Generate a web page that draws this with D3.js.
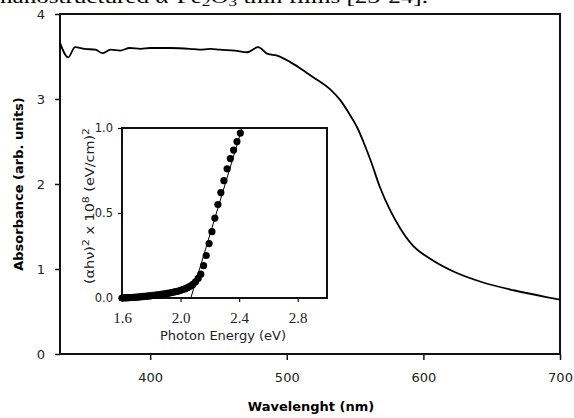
<!DOCTYPE html>
<html>
<head>
<meta charset="utf-8">
<script src="https://cdn.jsdelivr.net/npm/d3@7"></script>
<style>
  body { margin: 0; background: #fff; }
  svg { display: block; }
</style>
</head>
<body>
<svg width="574" height="418"></svg>
<script>
// main spectrum
const wavelength = [334, 340, 345, 352, 360, 365, 371, 378, 385, 393, 400, 415, 429, 436, 444, 451, 462, 471, 479, 486, 493, 502, 510, 519, 532, 539, 546, 552, 556, 562, 568, 576, 583, 592, 605, 622, 642, 666, 690, 700];
const absorbance = [3.66, 3.49, 3.61, 3.59, 3.58, 3.54, 3.58, 3.57, 3.60, 3.59, 3.60, 3.60, 3.59, 3.58, 3.59, 3.58, 3.57, 3.55, 3.61, 3.53, 3.51, 3.44, 3.36, 3.26, 3.11, 2.99, 2.82, 2.65, 2.50, 2.25, 1.97, 1.68, 1.48, 1.28, 1.12, 0.97, 0.85, 0.75, 0.67, 0.64];
const mainXTicks = [400, 500, 600, 700];
const mainYTicks = [0, 1, 2, 3, 4];

// inset Tauc plot
const photonEnergy = [1.600, 1.610, 1.621, 1.632, 1.642, 1.653, 1.664, 1.676, 1.687, 1.699, 1.710, 1.722, 1.734, 1.746, 1.759, 1.771, 1.784, 1.797, 1.810, 1.824, 1.837, 1.851, 1.865, 1.879, 1.893, 1.908, 1.922, 1.938, 1.953, 1.968, 1.984, 2.000, 2.016, 2.033, 2.050, 2.067, 2.084, 2.102, 2.120, 2.138, 2.157, 2.175, 2.195, 2.214, 2.234, 2.255, 2.275, 2.296, 2.318, 2.340, 2.362, 2.385, 2.408];
const tauc = [0.000, 0.001, 0.001, 0.002, 0.002, 0.003, 0.003, 0.004, 0.004, 0.005, 0.006, 0.007, 0.008, 0.009, 0.010, 0.011, 0.012, 0.013, 0.015, 0.016, 0.018, 0.019, 0.021, 0.023, 0.025, 0.027, 0.029, 0.032, 0.035, 0.038, 0.041, 0.045, 0.050, 0.055, 0.062, 0.070, 0.080, 0.095, 0.115, 0.140, 0.190, 0.250, 0.320, 0.390, 0.470, 0.550, 0.620, 0.690, 0.760, 0.820, 0.870, 0.920, 0.970];
const fitLine = [[2.07, 0], [2.42, 1.0]];
const insetXTicks = [1.6, 2.0, 2.4, 2.8];
const insetYTicks = [0.0, 0.5, 1.0];

const svg = d3.select("svg");
const sans = "'DejaVu Sans', 'Liberation Sans', Arial, sans-serif";
const serif = "'Liberation Serif', 'Times New Roman', serif";

// cut-off line of the surrounding document
svg.append("text")
  .attr("x", 0).attr("y", 3)
  .attr("textLength", 428).attr("lengthAdjust", "spacingAndGlyphs")
  .attr("font-family", serif).attr("font-size", 19)
  .html("nanostructured α-Fe<tspan baseline-shift='-3' font-size='13'>2</tspan>O<tspan baseline-shift='-3' font-size='13'>3</tspan> thin films [23-24].");

const x = d3.scaleLinear().domain([334, 700]).range([60, 560]);
const y = d3.scaleLinear().domain([0, 4]).range([354, 14]);

const gx = svg.append("g")
  .attr("transform", "translate(0,354)")
  .call(d3.axisBottom(x).tickValues(mainXTicks).tickSize(6).tickPadding(13));
const gy = svg.append("g")
  .attr("transform", "translate(60,0)")
  .call(d3.axisLeft(y).tickValues(mainYTicks).tickSize(5).tickPadding(10).tickFormat(d3.format("d")));

[gx, gy].forEach(g => {
  g.select(".domain").remove();
  g.selectAll("line").attr("stroke", "#111").attr("stroke-width", 1.5);
  g.selectAll("text").attr("font-family", sans).attr("font-size", 13).attr("fill", "#222");
});

svg.append("rect")
  .attr("x", 60).attr("y", 14).attr("width", 500).attr("height", 340)
  .attr("fill", "none").attr("stroke", "#111").attr("stroke-width", 2);

svg.append("path")
  .datum(d3.zip(wavelength, absorbance))
  .attr("fill", "none").attr("stroke", "#000").attr("stroke-width", 1.8)
  .attr("d", d3.line().x(d => x(d[0])).y(d => y(d[1])).curve(d3.curveMonotoneX));

svg.append("text")
  .attr("x", 311).attr("y", 411).attr("text-anchor", "middle")
  .attr("font-family", sans).attr("font-size", 13).attr("font-weight", "bold")
  .text("Wavelenght (nm)");

svg.append("text")
  .attr("transform", "translate(23,184) rotate(-90)").attr("text-anchor", "middle")
  .attr("font-family", sans).attr("font-size", 13).attr("font-weight", "bold")
  .text("Absorbance (arb. units)");

// inset
const ix = d3.scaleLinear().domain([1.6, 3.0]).range([122, 327]);
const iy = d3.scaleLinear().domain([0, 1]).range([298, 128]);

svg.append("rect")
  .attr("x", 122).attr("y", 128).attr("width", 205).attr("height", 170)
  .attr("fill", "#fff");

const igx = svg.append("g")
  .attr("transform", "translate(0,298)")
  .call(d3.axisBottom(ix).tickValues(insetXTicks).tickSize(4).tickFormat(d3.format(".1f")));
igx.selectAll("text").attr("y", 25).attr("dy", null)
  .attr("font-family", serif).attr("font-size", 15).attr("fill", "#222");

const igy = svg.append("g")
  .attr("transform", "translate(122,0)")
  .call(d3.axisLeft(iy).tickValues(insetYTicks).tickSize(4).tickPadding(5).tickFormat(d3.format(".1f")));
igy.selectAll("text").attr("font-family", sans).attr("font-size", 11.5).attr("fill", "#222");

[igx, igy].forEach(g => {
  g.select(".domain").remove();
  g.selectAll("line").attr("stroke", "#111").attr("stroke-width", 1.2);
});

svg.append("rect")
  .attr("x", 122).attr("y", 128).attr("width", 205).attr("height", 170)
  .attr("fill", "none").attr("stroke", "#111").attr("stroke-width", 2);

svg.append("path")
  .datum(fitLine)
  .attr("fill", "none").attr("stroke", "#000").attr("stroke-width", 1)
  .attr("d", d3.line().x(d => ix(d[0])).y(d => iy(d[1])));

svg.append("g").selectAll("circle")
  .data(d3.zip(photonEnergy, tauc))
  .join("circle")
  .attr("cx", d => ix(d[0])).attr("cy", d => iy(d[1]))
  .attr("r", 3.6).attr("fill", "#000");

svg.append("text")
  .attr("x", 223).attr("y", 340).attr("text-anchor", "middle")
  .attr("font-family", sans).attr("font-size", 13).attr("fill", "#222")
  .text("Photon Energy (eV)");

svg.append("text")
  .attr("transform", "translate(94,206) rotate(-90)").attr("text-anchor", "middle")
  .attr("textLength", 156).attr("lengthAdjust", "spacingAndGlyphs")
  .attr("font-family", sans).attr("font-size", 12).attr("fill", "#222")
  .html("(αhν)<tspan baseline-shift='super' font-size='9'>2</tspan> x 10<tspan baseline-shift='super' font-size='9'>8</tspan> (eV/cm)<tspan baseline-shift='super' font-size='9'>2</tspan>");
</script>
</body>
</html>
